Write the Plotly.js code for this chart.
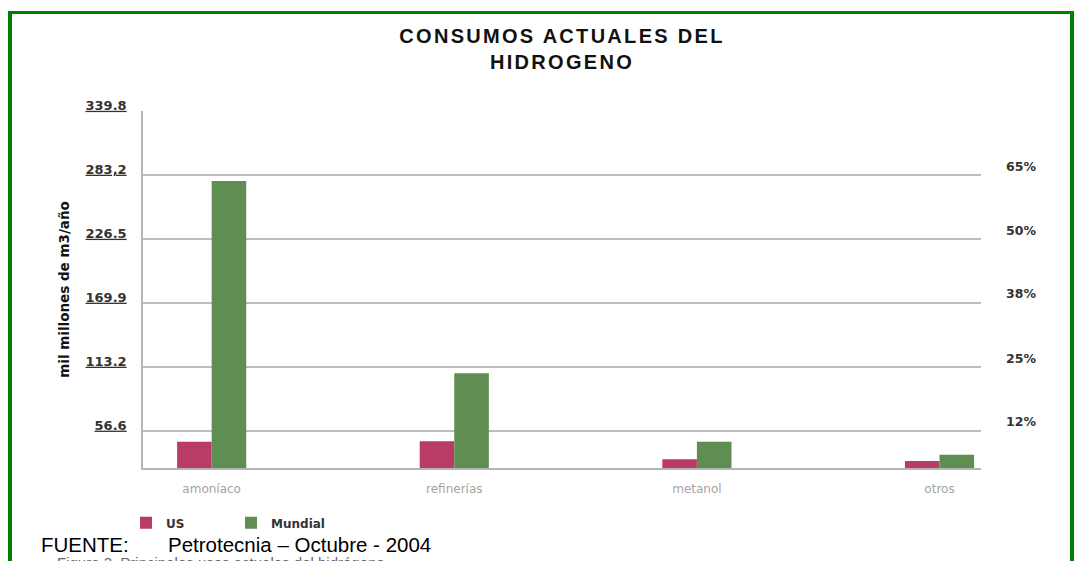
<!DOCTYPE html>
<html>
<head>
<meta charset="utf-8">
<script src="https://cdn.plot.ly/plotly-3.0.1.min.js"></script>
<style>
  html, body { margin:0; padding:0; background:#ffffff; }
  #wrap { position:relative; width:1077px; height:561px; overflow:hidden; }
  #chart { position:absolute; left:0; top:0; width:1077px; height:561px; }
  #frame { position:absolute; left:8px; top:11px; width:1058px; height:620px;
           border-left:4px solid #008000; border-top:3px solid #008000; border-right:4px solid #008000;
           pointer-events:none; z-index:5; }
  .gtitle { letter-spacing:2.3px; }
</style>
</head>
<body>
<div id="wrap">
  <div id="chart"></div>
  <div id="frame"></div>
</div>
<script>
const categories = ['amoníaco', 'refinerías', 'metanol', 'otros'];
const usValues = [47.2, 47.5, 31.6, 30.1];
const mundialValues = [278.1, 107.7, 47.2, 35.7];
const leftTickVals = [56.6, 113.2, 169.9, 226.5, 283.2, 339.8];
const leftTickText = ['56.6', '113.2', '169.9', '226.5', '283,2', '339.8'];
const rightTickVals = [56.6, 113.2, 169.9, 226.5, 283.2];
const rightTickText = ['12%', '25%', '38%', '50%', '65%'];
const seriesNames = ['US', 'Mundial'];
const titleText = 'CONSUMOS ACTUALES DEL<br>HIDROGENO';
const yTitle = 'mil millones de m3/año';
const sourceLabel = 'FUENTE:';
const sourceText = 'Petrotecnia – Octubre - 2004';
const captionText = 'Figura 3. Principales usos actuales del hidrógeno';

const traces = [
  { type:'bar', name:seriesNames[0], x:categories, y:usValues,
    marker:{ color:'#B83C64', line:{ width:0 } }, hoverinfo:'x+y+name' },
  { type:'bar', name:seriesNames[1], x:categories, y:mundialValues,
    marker:{ color:'#5E8E51', line:{ width:0 } }, hoverinfo:'x+y+name' },
  { type:'scatter', mode:'none', x:categories, y:mundialValues, yaxis:'y2',
    showlegend:false, hoverinfo:'skip' }
];

const layout = {
  width:1077, height:561,
  margin:{ l:143, r:96, t:111, b:93 },
  paper_bgcolor:'#ffffff', plot_bgcolor:'#ffffff',
  font:{ family:'DejaVu Sans, sans-serif', color:'#333' },
  title:{ text:titleText, x:0.5, xref:'paper', xanchor:'center', y:0.924, yref:'container', yanchor:'middle',
          font:{ family:'Liberation Sans, Arial, sans-serif', size:20, color:'#111', weight:700 } },
  barmode:'group', bargap:0.715, bargroupgap:0,
  showlegend:true,
  legend:{ orientation:'h', xref:'container', yref:'container', x:0.117, y:0.068, xanchor:'left', yanchor:'middle',
           font:{ family:'DejaVu Sans, sans-serif', size:12, color:'#333', weight:700 },
           entrywidth:60, bgcolor:'rgba(0,0,0,0)', traceorder:'normal' },
  xaxis:{ type:'category', range:[-0.283, 3.171], showgrid:false, zeroline:false,
          showline:true, linecolor:'#b4b4b4', linewidth:2, ticks:'',
          tickfont:{ family:'DejaVu Sans, sans-serif', size:12, color:'#a4a4a4' },
          ticklabelstandoff:9 },
  yaxis:{ range:[23.9, 340.0], tickmode:'array', tickvals:leftTickVals,
          ticktext:leftTickText.map(t => '<span style="text-decoration:underline">' + t + '</span>'),
          showgrid:true, gridcolor:'#bdbdbd', gridwidth:1.5, zeroline:false,
          showline:true, linecolor:'#b4b4b4', linewidth:1.5, ticks:'',
          tickfont:{ family:'DejaVu Sans, sans-serif', size:13, color:'#333', weight:700 },
          ticklabelstandoff:12, ticklabelshift:-6,
          title:{ text:yTitle, standoff:13,
                  font:{ family:'DejaVu Sans, sans-serif', size:13.5, color:'#111', weight:700 } } },
  yaxis2:{ range:[23.9, 340.0], overlaying:'y', side:'right', anchor:'x', tickmode:'array',
           tickvals:rightTickVals, ticktext:rightTickText,
           showgrid:false, zeroline:false, showline:false, ticks:'',
           tickfont:{ family:'DejaVu Sans, sans-serif', size:12.5, color:'#333', weight:700 },
           ticklabelstandoff:24, ticklabelshift:-9 },
  annotations:[
    { text:sourceLabel, xref:'paper', yref:'paper', x:-0.1237, y:-0.215, xanchor:'left', yanchor:'middle',
      showarrow:false, font:{ family:'Liberation Sans, Arial, sans-serif', size:20.5, color:'#000' } },
    { text:sourceText, xref:'paper', yref:'paper', x:0.0274, y:-0.215, xanchor:'left', yanchor:'middle',
      showarrow:false, font:{ family:'Liberation Sans, Arial, sans-serif', size:20.5, color:'#000' } },
    { text:captionText, xref:'paper', yref:'paper', x:-0.105, y:-0.236, xanchor:'left', yanchor:'top',
      showarrow:false, font:{ family:'Liberation Sans, Arial, sans-serif', size:15, color:'#666' } }
  ]
};

Plotly.newPlot('chart', traces, layout, { displayModeBar:false });
</script>
</body>
</html>
